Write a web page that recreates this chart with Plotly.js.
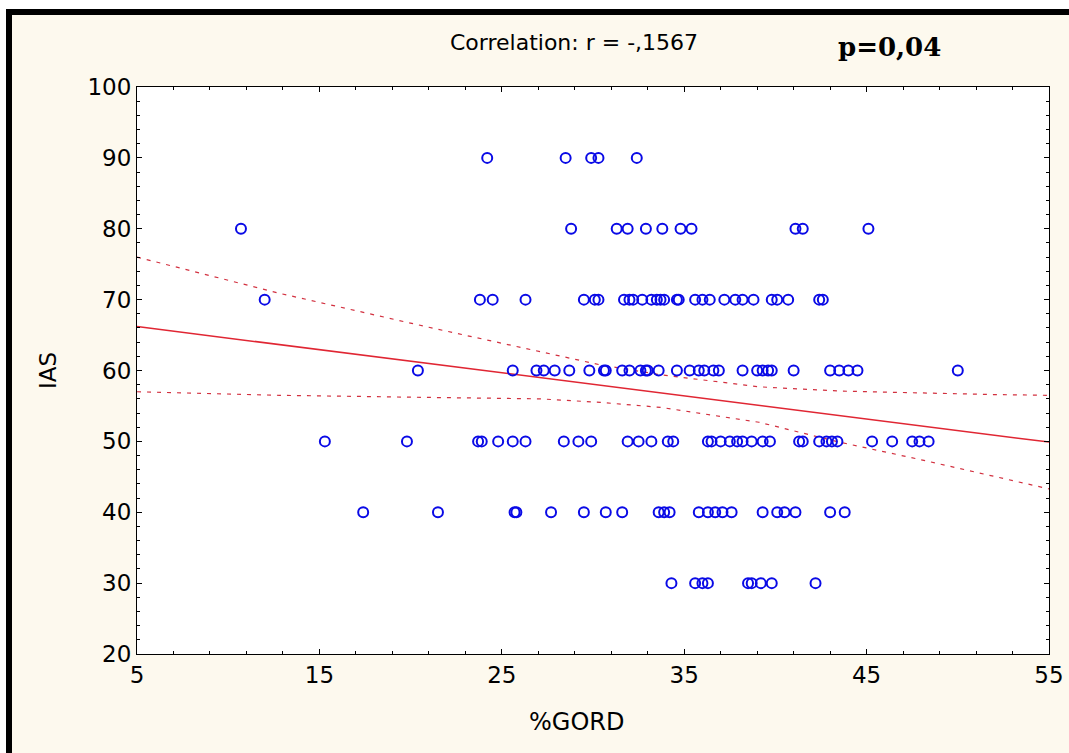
<!DOCTYPE html>
<html>
<head>
<meta charset="utf-8">
<script src="https://cdn.plot.ly/plotly-3.0.1.min.js"></script>
<style>
  html, body { margin:0; padding:0; background:#ffffff; width:1069px; height:753px; overflow:hidden; }
  #frame { position:absolute; left:6px; top:9px; border-top:6px solid #000; border-left:6px solid #000; width:1057px; height:738px; }
  #chart { width:1057px; height:738px; }
</style>
</head>
<body>
<div id="frame"><div id="chart"></div></div>
<script>
// IAS levels and %GORD values
const ias90 = [24.2, 28.5, 29.9, 30.3, 32.4];
const ias80 = [10.7, 28.8, 31.3, 31.9, 32.9, 33.8, 34.8, 35.4, 41.1, 41.5, 45.1];
const ias70 = [12.0, 23.8, 24.5, 26.3, 29.5, 30.1, 30.3, 31.7, 32.0, 32.2, 32.7, 33.2, 33.5, 33.7, 33.9,
               34.6, 34.7, 35.6, 36.0, 36.4, 37.2, 37.8, 38.2, 38.8, 39.8, 40.1, 40.7, 42.4, 42.6];
const ias60 = [20.4, 25.6, 26.9, 27.3, 27.9, 28.7, 29.8, 30.6, 30.7, 31.6, 32.0, 32.6, 32.9, 33.0, 33.6,
               34.6, 35.3, 35.8, 36.1, 36.6, 36.9, 38.2, 39.0, 39.3, 39.6, 39.8, 41.0, 43.0, 43.5, 44.0, 44.5, 50.0];
const ias50 = [15.3, 19.8, 23.7, 23.9, 24.8, 25.6, 26.3, 28.4, 29.2, 29.9, 31.9, 32.5, 33.2, 34.1, 34.4,
               36.3, 36.5, 37.0, 37.5, 37.9, 38.2, 38.7, 39.3, 39.7, 41.3, 41.5, 42.4, 42.8, 43.1, 43.4,
               45.3, 46.4, 47.5, 47.9, 48.4];
const ias40 = [17.4, 21.5, 25.7, 25.8, 27.7, 29.5, 30.7, 31.6, 33.6, 33.9, 34.2, 35.8, 36.3, 36.7, 37.1,
               37.6, 39.3, 40.1, 40.5, 41.1, 43.0, 43.8];
const ias30 = [34.3, 35.6, 36.0, 36.3, 38.5, 38.7, 39.2, 39.8, 42.2];

const rows = [[90, ias90], [80, ias80], [70, ias70], [60, ias60], [50, ias50], [40, ias40], [30, ias30]];

// Regression line and 95% confidence bands
const fitX = [5, 55];
const fitY = [66.2, 49.9];
const bandX = [5, 12.8, 21, 27.1, 30.4, 33.7, 39.1, 43.5, 48, 52, 55];
const bandUpper = [76.0, 70.9, 66.1, 62.6, 60.8, 59.4, 57.7, 57.1, 56.8, 56.6, 56.5];
const bandLower = [57.0, 56.5, 56.2, 56.0, 55.5, 54.8, 52.7, 49.9, 47.4, 45.0, 43.3];

const xTicks = [5, 15, 25, 35, 45, 55];
const yTicks = [20, 30, 40, 50, 60, 70, 80, 90, 100];

const px = [], py = [];
rows.forEach(([yv, xs]) => xs.forEach(xv => { px.push(xv); py.push(yv); }));

const FONT = 'DejaVu Sans, Liberation Sans, Arial, sans-serif';
const red = '#e02633';

const traces = [
  { x: bandX, y: bandUpper, mode: 'lines', line: { color: '#d2303f', width: 1.2, dash: '4px,6px' }, hoverinfo: 'skip' },
  { x: bandX, y: bandLower, mode: 'lines', line: { color: '#d2303f', width: 1.2, dash: '4px,6px' }, hoverinfo: 'skip' },
  { x: fitX, y: fitY, mode: 'lines', line: { color: red, width: 1.5 }, hoverinfo: 'skip' },
  { x: px, y: py, mode: 'markers', marker: { symbol: 'circle-open', size: 10, color: '#0a0ae6', line: { width: 2, color: '#0a0ae6' } } }
];

const axisCommon = {
  showgrid: false, zeroline: false, showline: true, linecolor: '#000', linewidth: 1, mirror: 'ticks',
  ticks: 'inside', ticklen: 5, tickcolor: '#000', tickwidth: 1,
  tickfont: { family: FONT, size: 23, color: '#000' }, fixedrange: true
};

const layout = {
  width: 1057, height: 738,
  paper_bgcolor: '#fdf9ee', plot_bgcolor: '#ffffff',
  margin: { l: 125, r: 20, t: 72, b: 99 },
  showlegend: false,
  xaxis: Object.assign({}, axisCommon, {
    range: [5, 55], tickmode: 'array', tickvals: xTicks, ticktext: xTicks.map(String),
    minor: { dtick: 2, tick0: 5, ticks: 'inside', ticklen: 3, tickcolor: '#000', showgrid: false }
  }),
  yaxis: Object.assign({}, axisCommon, {
    range: [20, 100], tickmode: 'array', tickvals: yTicks, ticktext: yTicks.map(String),
    minor: { dtick: 2, tick0: 20, ticks: 'inside', ticklen: 3, tickcolor: '#000', showgrid: false }
  }),
  annotations: [
    { text: 'Correlation: r = -,1567', xref: 'paper', yref: 'paper', x: 0.479, y: 1.079,
      xanchor: 'center', yanchor: 'middle', showarrow: false, font: { family: FONT, size: 22, color: '#000' } },
    { text: '<b>p=0,04</b>', xref: 'paper', yref: 'paper', x: 0.8246, y: 1.07,
      xanchor: 'center', yanchor: 'middle', showarrow: false, font: { family: 'DejaVu Serif, Liberation Serif, serif', size: 26, color: '#000' } },
    { text: '%GORD', xref: 'paper', yref: 'paper', x: 0.482, y: -0.12,
      xanchor: 'center', yanchor: 'middle', showarrow: false, font: { family: FONT, size: 24, color: '#000' } },
    { text: 'IAS', xref: 'paper', yref: 'paper', x: -0.0976, y: 0.501, textangle: -90,
      xanchor: 'center', yanchor: 'middle', showarrow: false, font: { family: FONT, size: 23, color: '#000' } }
  ]
};

Plotly.newPlot('chart', traces, layout, { displayModeBar: false, staticPlot: true });
</script>
</body>
</html>
